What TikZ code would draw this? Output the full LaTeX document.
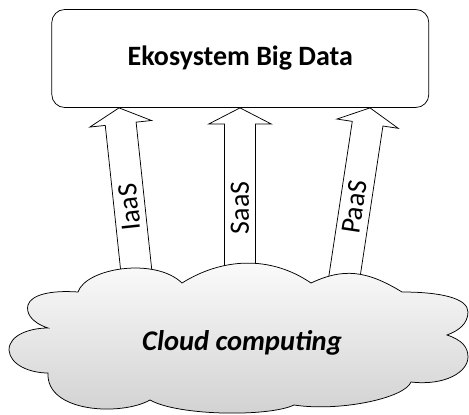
\documentclass[tikz,border=0pt]{standalone}
\usepackage{fontspec}
\setmainfont{Carlito}
\usetikzlibrary{calc}

\begin{document}
\begin{tikzpicture}[x=1pt,y=-1pt,line width=0.75pt,
    ekobox/.style={draw,rounded corners=13pt,minimum width=377pt,minimum height=98pt,font=\fontsize{28}{32}\selectfont\bfseries},
    blok/.style={draw,fill=white,line join=miter},
    lbl/.style={inner sep=0pt,font=\fontsize{28}{32}\selectfont}]
  \useasboundingbox (0,0) rectangle (469,415);

    \node[ekobox] (eko) at (240.3,58.5) {Ekosystem Big Data};

    \foreach \dx/\bx/\by/\p/\a/\t in {-121.3/136/268/0.38/96.1/IaaS, -0.3/240/263/0.355/90/SaaS, 129.7/345/273/0.4/81.4/PaaS}
    {
      \coordinate (tip) at ($(eko.south)+(\dx,0)$);
      \coordinate (bot) at (\bx,\by);
      \coordinate (h) at ($(tip)!16pt!(bot)$);
      \coordinate (e) at ($(tip)!1.25!(bot)$);
      \draw[blok] (tip) -- ($(h)!31pt!90:(tip)$) -- ($(h)!15.5pt!90:(tip)$) -- ($(e)!15.5pt!90:(tip)$)
         -- ($(e)!15.5pt!-90:(tip)$) -- ($(h)!15.5pt!-90:(tip)$) -- ($(h)!31pt!-90:(tip)$) -- cycle;
      \path (bot) -- (tip) node[lbl,pos=\p,rotate=\a] {\t};
    }

    \draw[top color=black!1,bottom color=black!18] (78,292)
      .. controls (86,268) and (155,257) .. (182,283)
      .. controls (222,258) and (270,255) .. (311,283)
      .. controls (343,268) and (366,270) .. (402,292)
      .. controls (440,292) and (468,298) .. (468,312)
      .. controls (468,324) and (458,331) .. (447,335)
      .. controls (462,340) and (468,347) .. (468,357)
      .. controls (468,372) and (445,386) .. (411,382)
      .. controls (405,398) and (340,412) .. (294,405)
      .. controls (269,417) and (178,416) .. (150,400)
      .. controls (122,416) and (46,413) .. (48,373)
      .. controls (30,373) and (10,365) .. (9,350)
      .. controls (9,335) and (30,328) .. (48,328)
      .. controls (30,322) and (26,312) .. (28,305)
      .. controls (31,295) and (50,290) .. (78,292) -- cycle;
    \node[font=\fontsize{28.5}{32}\selectfont\bfseries\itshape] (cloud) at (242,343) {Cloud computing};

\end{tikzpicture}
\end{document}
